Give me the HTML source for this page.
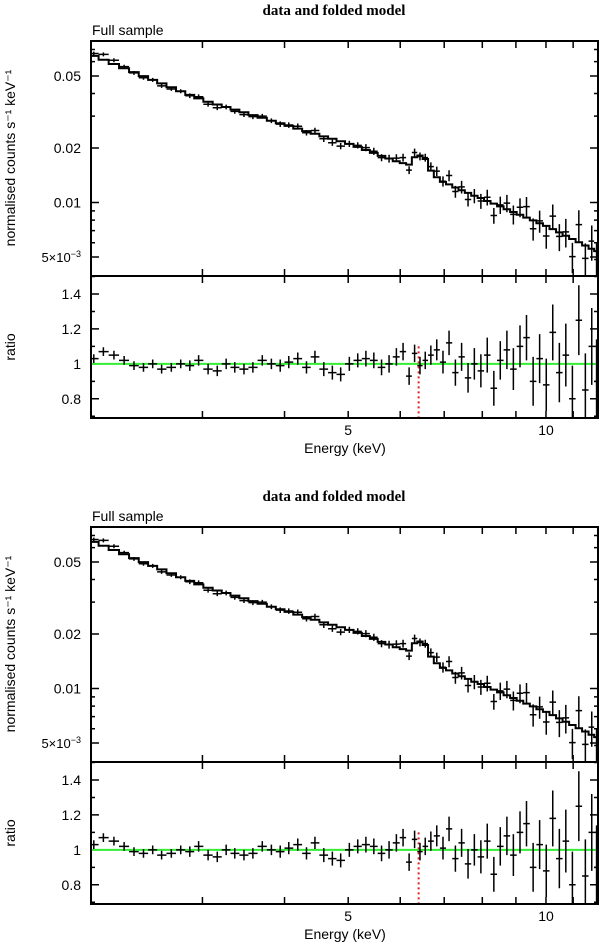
<!DOCTYPE html>
<html><head><meta charset="utf-8"><style>
html,body{margin:0;padding:0;background:#fff;width:600px;height:944px;overflow:hidden}
svg{display:block}
text{font-family:"Liberation Sans",sans-serif;fill:#000}
</style></head><body>
<svg id="chart" width="600" height="944" viewBox="0 0 600 944" xmlns="http://www.w3.org/2000/svg"></svg>
<script>
// ---- data ----
const energies=[2.05,2.12,2.20,2.28,2.36,2.44,2.52,2.60,2.69,2.78,2.87,2.96,3.06,3.16,3.26,3.36,3.47,3.58,3.70,3.82,3.94,4.06,4.19,4.32,4.45,4.59,4.73,4.87,5.02,5.17,5.32,5.47,5.62,5.77,5.92,6.06,6.19,6.31,6.43,6.55,6.68,6.82,6.97,7.12,7.28,7.44,7.61,7.78,7.96,8.14,8.33,8.52,8.72,8.92,9.13,9.34,9.56,9.78,10.01,10.24,10.48,10.72,10.97,11.22,11.48,11.74,11.94];
const modelValues=[0.0646,0.0615,0.0582,0.0552,0.0525,0.0499,0.0476,0.0455,0.0433,0.0412,0.0393,0.0376,0.0360,0.0348,0.0337,0.0326,0.0315,0.0304,0.0294,0.0283,0.0274,0.0265,0.0256,0.0248,0.0240,0.0232,0.0225,0.0218,0.0211,0.0203,0.0195,0.0188,0.0181,0.0175,0.0169,0.0165,0.0162,0.0178,0.0182,0.0174,0.0150,0.0138,0.0130,0.0126,0.0121,0.0117,0.0113,0.0109,0.0106,0.0102,0.00986,0.00952,0.00919,0.00887,0.00856,0.00826,0.00797,0.00769,0.00743,0.00713,0.00684,0.00656,0.00629,0.00604,0.00579,0.00556,0.00539];
const countValues=[0.0665,0.0658,0.0611,0.0563,0.0520,0.0489,0.0476,0.0441,0.0424,0.0412,0.0389,0.0384,0.0349,0.0334,0.0337,0.0319,0.0306,0.0298,0.0300,0.0283,0.0271,0.0268,0.0264,0.0243,0.0250,0.0225,0.0214,0.0205,0.0211,0.0207,0.0201,0.0192,0.0177,0.0175,0.0176,0.0177,0.0151,0.0189,0.0180,0.0177,0.0158,0.0149,0.0131,0.0141,0.0115,0.0122,0.0104,0.0109,0.0102,0.0107,0.00848,0.00971,0.00993,0.00860,0.00942,0.00950,0.00717,0.00792,0.00654,0.00841,0.00650,0.00689,0.00503,0.00755,0.00492,0.00612,0.00485];
const ratioValues=[1.03,1.07,1.05,1.02,0.99,0.98,1.00,0.97,0.98,1.00,0.99,1.02,0.97,0.96,1.00,0.98,0.97,0.98,1.02,1.00,0.99,1.01,1.03,0.98,1.04,0.97,0.95,0.94,1.00,1.02,1.03,1.02,0.98,1.00,1.04,1.07,0.93,1.06,0.99,1.02,1.05,1.08,1.01,1.12,0.95,1.04,0.92,1.00,0.96,1.05,0.86,1.02,1.08,0.97,1.10,1.15,0.90,1.03,0.88,1.18,0.95,1.05,0.80,1.25,0.85,1.10,0.90];
const errFrac=[0.025,0.025,0.025,0.025,0.025,0.025,0.025,0.025,0.025,0.025,0.03,0.03,0.03,0.03,0.03,0.03,0.03,0.03,0.03,0.03,0.035,0.035,0.035,0.035,0.035,0.04,0.04,0.04,0.04,0.04,0.045,0.045,0.045,0.05,0.05,0.05,0.05,0.05,0.05,0.05,0.055,0.06,0.065,0.07,0.075,0.08,0.085,0.09,0.095,0.1,0.1,0.11,0.11,0.12,0.12,0.13,0.14,0.14,0.15,0.16,0.17,0.18,0.19,0.2,0.21,0.22,0.24];
const xTickValues=[3,4,5,6,7,8,9,10,11];
const xTickLabels=["5","10"];
const yTickLabels=["0.05","0.02","0.01"];
const yTickValues=[0.05,0.02,0.01];
const yMinorValues=[0.03,0.04,0.06,0.07,0.005,0.006,0.007,0.008,0.009];
const ratioTicks=[0.8,1,1.2,1.4];
const ratioMinor=[0.7,0.9,1.1,1.3,1.5];
const lineEnergy=6.4;

// ---- axes ----
const XL=91,XR=598;
const eMin=2.03,eMax=12.0;
const xS=e=>XL+(Math.log10(e)-Math.log10(eMin))/(Math.log10(eMax)-Math.log10(eMin))*(XR-XL);
const yTop=41,yMid=276,yBot=418;
const cMin=0.00393,cMax=0.078;
const yS=(v,o)=>o+yTop+(Math.log10(cMax)-Math.log10(v))/(Math.log10(cMax)-Math.log10(cMin))*(yMid-yTop);
const rMin=0.69,rMax=1.503;
const rS=(v,o)=>o+yMid+(rMax-v)/(rMax-rMin)*(yBot-yMid);

const svg=document.getElementById('chart');
const NS='http://www.w3.org/2000/svg';
function mk(tag,attrs,parent){const el=document.createElementNS(NS,tag);for(const k in attrs)el.setAttribute(k,attrs[k]);(parent||svg).appendChild(el);return el;}
function txt(s,attrs,parent){const t=mk('text',attrs,parent);t.textContent=s;return t;}

function edges(i){
  const lo=i>0?Math.sqrt(energies[i-1]*energies[i]):energies[0]*energies[0]/Math.sqrt(energies[0]*energies[1]);
  const hi=i<energies.length-1?Math.sqrt(energies[i]*energies[i+1]):Math.min(eMax,energies[i]*energies[i]/Math.sqrt(energies[i-1]*energies[i]));
  return [Math.max(lo,eMin),Math.min(hi,eMax)];
}

function panel(o,idx){
  const g=mk('g',{});
  
  
  const t=txt('data and folded model',{x:334,y:o+15,'text-anchor':'middle','font-size':'15','font-weight':'bold',style:'font-family:"Liberation Serif",serif'},g);
  
  
  const fs=txt('Full sample',{x:92,y:o+35,'font-size':'14'},g);
  
  
  const yl=txt('normalised counts s\u207B\u00B9 keV\u207B\u00B9',{x:0,y:0,'font-size':'14','text-anchor':'middle',transform:`translate(15,${o+158}) rotate(-90)`},g);
  
  
  const rl=txt('ratio',{x:0,y:0,'font-size':'14','text-anchor':'middle',transform:`translate(15,${o+347}) rotate(-90)`},g);
  
  
  const xl=txt('Energy (keV)',{x:345,y:o+453,'font-size':'14','text-anchor':'middle'},g);
  
  
  [5,10].forEach((v,i)=>{const l=txt(xTickLabels[i],{x:xS(v),y:o+435,'font-size':'14','text-anchor':'middle'},g);
    
    });
  yTickValues.forEach((v,i)=>{const l=txt(yTickLabels[i],{x:81,y:yS(v,o)+5,'font-size':'14','text-anchor':'end'},g);
    
    });
  const l5=txt('',{x:81,y:yS(0.005,o)+5,'font-size':'13','text-anchor':'end'},g);
  l5.innerHTML='5\u00D710<tspan dy="-5" font-size="9">\u22123</tspan>';
  
  
  ratioTicks.forEach(v=>{const l=txt(v===1?'1':v.toFixed(1),{x:81,y:rS(v,o)+5,'font-size':'14','text-anchor':'end'},g);
    
    });
  let d='';
  xTickValues.forEach(v=>{const x=xS(v);d+=`M${x},${o+yTop}v7M${x},${o+yMid}v-7M${x},${o+yMid}v7M${x},${o+yBot}v-7`;});
  yTickValues.forEach(v=>{const y=yS(v,o);d+=`M${XL},${y}h8M${XR},${y}h-8`;});
  d+=`M${XL},${yS(0.005,o)}h8M${XR},${yS(0.005,o)}h-8`;
  yMinorValues.forEach(v=>{const y=yS(v,o);d+=`M${XL},${y}h4M${XR},${y}h-4`;});
  ratioTicks.forEach(v=>{const y=rS(v,o);d+=`M${XL},${y}h8M${XR},${y}h-8`;});
  ratioMinor.forEach(v=>{const y=rS(v,o);if(v<rMax)d+=`M${XL},${y}h4M${XR},${y}h-4`;});
  const tk=mk('path',{d,stroke:'#000','stroke-width':1.5,fill:'none'},g);
  
  
  const gl=mk('line',{x1:XL,x2:XR,y1:rS(1,o),y2:rS(1,o),stroke:'#33ee33','stroke-width':2},g);
  
  
  const rd=mk('line',{x1:xS(lineEnergy),x2:xS(lineEnergy),y1:rS(1.1,o),y2:o+yBot,stroke:'#dd2222','stroke-width':2,'stroke-dasharray':'2,3'},g);
  
  
  let md='';
  energies.forEach((e,i)=>{const [lo,hi]=edges(i);const y=yS(modelValues[i],o);md+=(i?'L':'M')+xS(lo)+','+y+'L'+xS(hi)+','+y;});
  const mp=mk('path',{d:md,stroke:'#000','stroke-width':2,fill:'none'},g);
  
  
  let dd='',rdd='';
  energies.forEach((e,i)=>{const [lo,hi]=edges(i);const x=xS(e);
    const c=countValues[i],er=errFrac[i];
    const y=yS(c,o),y1=yS(Math.max(c*(1-er),cMin),o),y2=yS(Math.min(c*(1+er),cMax),o);
    dd+=`M${xS(lo)},${y}H${xS(hi)}M${x},${Math.min(y1,o+yMid)}V${Math.max(y2,o+yTop)}`;
    const r=ratioValues[i];
    const ry=rS(r,o),ry1=Math.min(rS(r-er,o),o+yBot),ry2=Math.max(rS(r+er,o),o+yMid);
    rdd+=`M${xS(lo)},${ry}H${xS(hi)}M${x},${ry1}V${ry2}`;});
  const dp=mk('path',{d:dd,stroke:'#000','stroke-width':1.5,fill:'none'},g);
  
  
  const rp=mk('path',{d:rdd,stroke:'#000','stroke-width':1.5,fill:'none'},g);
  
  
  const fr=mk('path',{d:`M${XL},${o+yTop}H${XR}V${o+yBot}H${XL}ZM${XL},${o+yMid}H${XR}`,stroke:'#000','stroke-width':2,fill:'none'},g);
  
  
}
panel(0,'top');
panel(486,'bottom');
</script>
</body></html>
